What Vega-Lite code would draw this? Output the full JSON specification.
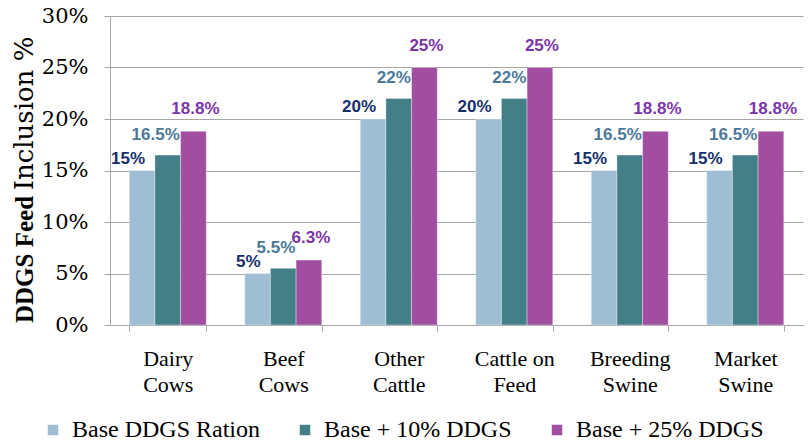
{
  "$schema": "https://vega.github.io/schema/vega-lite/v6.json",
  "autosize": {"type": "none"},
  "width": 693,
  "height": 309,
  "padding": {"left": 110, "top": 16, "right": 8, "bottom": 118},
  "background": "white",
  "data": {
    "values": [
      {"animal": "Dairy Cows", "ration": "Base DDGS Ration", "share": 0.15},
      {"animal": "Dairy Cows", "ration": "Base + 10% DDGS", "share": 0.165},
      {"animal": "Dairy Cows", "ration": "Base + 25% DDGS", "share": 0.188},
      {"animal": "Beef Cows", "ration": "Base DDGS Ration", "share": 0.05},
      {"animal": "Beef Cows", "ration": "Base + 10% DDGS", "share": 0.055},
      {"animal": "Beef Cows", "ration": "Base + 25% DDGS", "share": 0.063},
      {"animal": "Other Cattle", "ration": "Base DDGS Ration", "share": 0.20},
      {"animal": "Other Cattle", "ration": "Base + 10% DDGS", "share": 0.22},
      {"animal": "Other Cattle", "ration": "Base + 25% DDGS", "share": 0.25},
      {"animal": "Cattle on Feed", "ration": "Base DDGS Ration", "share": 0.20},
      {"animal": "Cattle on Feed", "ration": "Base + 10% DDGS", "share": 0.22},
      {"animal": "Cattle on Feed", "ration": "Base + 25% DDGS", "share": 0.25},
      {"animal": "Breeding Swine", "ration": "Base DDGS Ration", "share": 0.15},
      {"animal": "Breeding Swine", "ration": "Base + 10% DDGS", "share": 0.165},
      {"animal": "Breeding Swine", "ration": "Base + 25% DDGS", "share": 0.188},
      {"animal": "Market Swine", "ration": "Base DDGS Ration", "share": 0.15},
      {"animal": "Market Swine", "ration": "Base + 10% DDGS", "share": 0.165},
      {"animal": "Market Swine", "ration": "Base + 25% DDGS", "share": 0.188}
    ]
  },
  "encoding": {
    "x": {
      "field": "animal",
      "type": "nominal",
      "sort": null,
      "scale": {"paddingInner": 0.333, "paddingOuter": 0.1665},
      "axis": {
        "title": null,
        "labelAngle": 0,
        "labelExpr": "!isString(datum.value) ? '' : datum.value == 'Cattle on Feed' ? ['Cattle on', 'Feed'] : split(datum.value, ' ')",
        "labelFont": "serif",
        "labelFontSize": 22,
        "labelColor": "#000000",
        "labelLineHeight": 26,
        "labelPadding": 17,
        "labelBaseline": "top",
        "tickBand": "extent",
        "tickColor": "#a6a6a6",
        "tickSize": 6,
        "domainColor": "#a6a6a6",
        "grid": false
      }
    },
    "xOffset": {
      "field": "ration",
      "type": "nominal",
      "sort": ["Base DDGS Ration", "Base + 10% DDGS", "Base + 25% DDGS"]
    },
    "y": {
      "field": "share",
      "type": "quantitative",
      "scale": {"domain": [0, 0.3], "nice": false}
    }
  },
  "layer": [
    {
      "mark": {"type": "bar", "stroke": "#ffffff", "strokeWidth": 0.6, "strokeOpacity": 0.6},
      "encoding": {
        "y": {
          "field": "share",
          "type": "quantitative",
          "axis": {
            "orient": "left",
            "format": ".0%",
            "values": [0, 0.05, 0.1, 0.15, 0.2, 0.25, 0.3],
            "labelFont": "DejaVu Serif, serif",
            "labelFontSize": 21,
            "labelColor": "#000000",
            "labelPadding": 16,
            "tickColor": "#a6a6a6",
            "tickSize": 6,
            "domainColor": "#a6a6a6",
            "gridColor": "#a6a6a6",
            "gridWidth": 1,
            "title": "DDGS Feed",
            "titleFont": "serif",
            "titleFontWeight": "bold",
            "titleFontSize": 25,
            "titleColor": "#000000",
            "titleAngle": -90,
            "titleAlign": "center",
            "titleBaseline": "middle",
            "titleX": -86,
            "titleY": 243
          }
        },
        "color": {
          "field": "ration",
          "type": "nominal",
          "scale": {
            "domain": ["Base DDGS Ration", "Base + 10% DDGS", "Base + 25% DDGS"],
            "range": ["#9fbdd3", "#437f86", "#a14ea1"]
          },
          "legend": {
            "title": null,
            "orient": "none",
            "direction": "horizontal",
            "legendX": -69,
            "legendY": 402,
            "symbolType": "square",
            "symbolSize": 110,
            "symbolStrokeWidth": 0,
            "labelOffset": 7,
            "columnPadding": 33,
            "labelLimit": 300
          }
        }
      }
    },
    {
      "transform": [{"filter": "datum.ration == 'Base DDGS Ration'"}],
      "mark": {"type": "text", "align": "right", "baseline": "bottom", "dx": 3, "dy": -3, "font": "Liberation Sans", "fontWeight": "bold", "fontSize": 17, "color": "#162f6a"},
      "encoding": {
        "y": {"field": "share", "type": "quantitative", "axis": null},
        "text": {"field": "share", "type": "quantitative", "format": ".1~%"}
      }
    },
    {
      "transform": [{"filter": "datum.ration == 'Base + 10% DDGS'"}],
      "mark": {"type": "text", "align": "right", "baseline": "bottom", "dx": 12, "dy": -11, "font": "Liberation Sans", "fontWeight": "bold", "fontSize": 17, "color": "#4b7899"},
      "encoding": {
        "y": {"field": "share", "type": "quantitative", "axis": null},
        "text": {"field": "share", "type": "quantitative", "format": ".1~%"}
      }
    },
    {
      "transform": [{"filter": "datum.ration == 'Base + 25% DDGS'"}],
      "mark": {"type": "text", "align": "center", "baseline": "bottom", "dx": 2, "dy": -13, "font": "Liberation Sans", "fontWeight": "bold", "fontSize": 17, "color": "#7b35a8"},
      "encoding": {
        "y": {
          "field": "share",
          "type": "quantitative",
          "axis": {
            "orient": "left",
            "labels": false,
            "ticks": false,
            "domain": false,
            "grid": false,
            "title": "Inclusion %",
            "titleFont": "DejaVu Serif, serif",
            "titleFontWeight": "normal",
            "titleFontSize": 26,
            "titleColor": "#000000",
            "titleAngle": -90,
            "titleAlign": "center",
            "titleBaseline": "middle",
            "titleX": -86,
            "titleY": 97
          }
        },
        "text": {"field": "share", "type": "quantitative", "format": ".1~%"}
      }
    }
  ],
  "resolve": {"axis": {"y": "independent"}},
  "config": {
    "view": {"stroke": null},
    "legend": {"labelFont": "serif", "labelFontSize": 24, "labelColor": "#000000"}
  }
}
